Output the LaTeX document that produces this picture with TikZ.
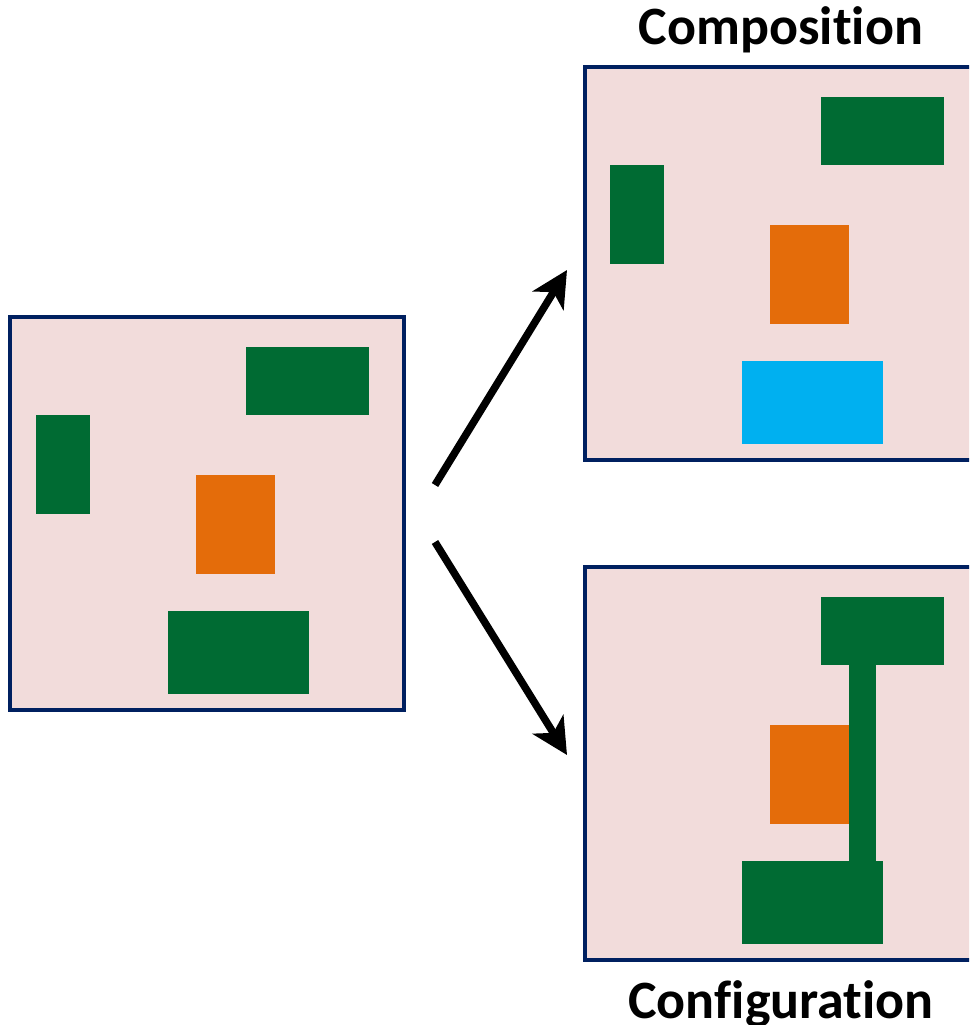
\documentclass[tikz,border=0pt]{standalone}
\usepackage{fontspec}
\setmainfont{Carlito}[Ligatures=NoCommon, RawFeature={-liga;-clig;-calt;-dlig}]
\usetikzlibrary{arrows.meta}
\definecolor{panelfill}{HTML}{F2DCDB}
\definecolor{navy}{HTML}{002060}
\definecolor{dgreen}{HTML}{006B33}
\definecolor{orng}{HTML}{E46C0A}
\definecolor{cyanb}{HTML}{00B0F0}
\begin{document}
\begin{tikzpicture}[x=1pt,y=-1pt,
  panel/.style={draw=navy, line width=3.3pt, fill=panelfill},
  grn/.style={fill=dgreen},
  org/.style={fill=orng},
  cyn/.style={fill=cyanb},
  bigarrow/.style={line width=7.5pt, -{Stealth[length=36pt, width=36pt, inset=10pt]}},
  title/.style={font=\fontsize{54}{60}\selectfont\bfseries, anchor=base}]
\useasboundingbox (0,0) rectangle (969,1025);
\clip (0,0) rectangle (969,1025);
% left panel
\draw[panel] (10,317) rectangle (404,710);
\fill[grn] (246,347) rectangle (369,415);
\fill[grn] (36,415) rectangle (90,514);
\fill[org] (196,475) rectangle (275,574);
\fill[grn] (168,611) rectangle (309,694);
% top right panel (Composition)
\draw[panel] (585,67) rectangle (979,460);
\fill[grn] (821,97) rectangle (944,165);
\fill[grn] (610,165) rectangle (664,264);
\fill[org] (770,225) rectangle (849,324);
\fill[cyn] (742,361) rectangle (883,444);
% bottom right panel (Configuration)
\draw[panel] (585,567) rectangle (979,960);
\fill[grn] (821,597) rectangle (944,665);
\fill[grn] (849,664) rectangle (876,862);
\fill[org] (770,725) rectangle (849,824);
\fill[grn] (742,861) rectangle (883,944);
% titles
\node[title] (comp) at (781,45) {Composition};
\node[title] (conf) at (781,1018) {Configuration};
% arrows
\coordinate (a1s) at (435,485);
\coordinate (a1e) at (567,270);
\coordinate (a2s) at (435,542);
\coordinate (a2e) at (567,755);
\draw[bigarrow] (a1s) -- (a1e);
\draw[bigarrow] (a2s) -- (a2e);
\end{tikzpicture}
\end{document}
